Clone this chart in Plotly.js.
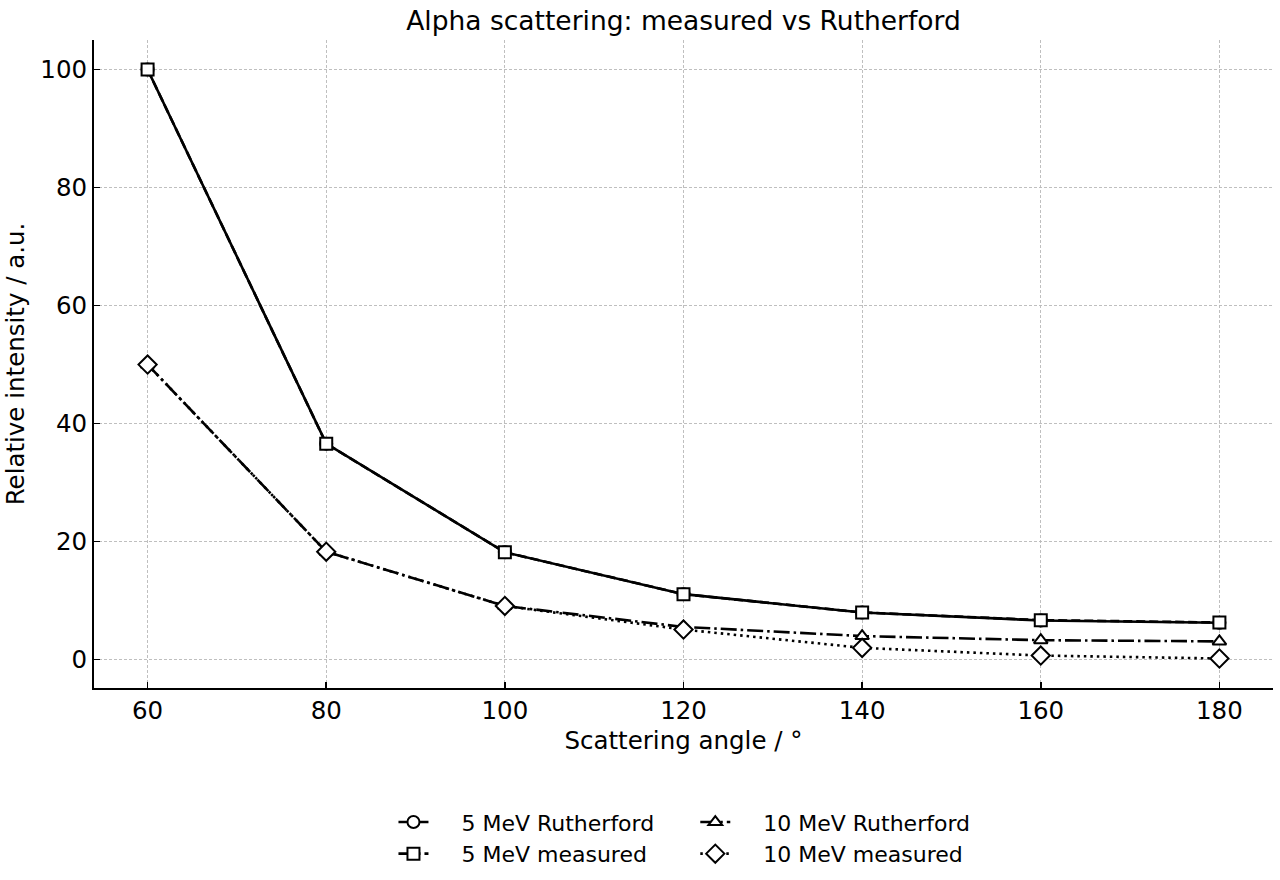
<!DOCTYPE html>
<html>
<head>
<meta charset="utf-8">
<script src="https://cdn.plot.ly/plotly-3.0.1.min.js"></script>
<style>
  html, body { margin: 0; padding: 0; background: #ffffff; }
  #chart { width: 1280px; height: 880px; }
</style>
</head>
<body>
<div id="chart"></div>
<script>
// Scattering angles in degrees
const angles = [60, 80, 100, 120, 140, 160, 180];

// Relative intensities (a.u.)
const rutherford5 = [100, 36.6, 18.2, 11.1, 8.0, 6.65, 6.25];
const measured5   = [100, 36.6, 18.2, 11.1, 8.0, 6.7, 6.3];
const rutherford10 = [50, 18.3, 9.1, 5.55, 4.0, 3.3, 3.1];
const measured10   = [50, 18.3, 9.1, 5.1, 2.0, 0.7, 0.2];

const seriesNames = ['5 MeV Rutherford', '5 MeV measured', '10 MeV Rutherford', '10 MeV measured'];
const yTicks = [0, 20, 40, 60, 80, 100];

const FONT = 'DejaVu Sans, sans-serif';
const GAP = '\u00a0\u00a0\u00a0\u00a0';

function series(y, name, symbol, dash, legendId, size) {
  return {
    x: angles, y: y, name: GAP + name, type: 'scatter', mode: 'lines+markers',
    legend: legendId,
    line: { color: '#000000', width: 2.6, dash: dash },
    marker: { symbol: symbol, size: size, color: '#ffffff', line: { color: '#000000', width: 2 } }
  };
}

const traces = [
  series(rutherford5, seriesNames[0], 'circle', 'solid', 'legend', 12),
  series(measured5, seriesNames[1], 'square', '9px,4px', 'legend', 12),
  series(rutherford10, seriesNames[2], 'triangle-up', '16px,4px,2.5px,4px', 'legend2', 12),
  series(measured10, seriesNames[3], 'diamond', '2.5px,4px', 'legend2', 14)
];

const axisCommon = {
  showline: true, linecolor: '#000000', linewidth: 2, mirror: false,
  ticks: 'inside', ticklen: 6, tickwidth: 1.6, tickcolor: '#000000',
  showgrid: true, gridcolor: '#b8b8b8', gridwidth: 0.9, griddash: '3px,2px',
  zeroline: false, automargin: false,
  tickfont: { family: FONT, size: 24.5, color: '#000000' }
};

const legendCommon = {
  xanchor: 'left', yref: 'container', y: 0.0895, yanchor: 'top',
  orientation: 'v', bgcolor: 'rgba(0,0,0,0)',
  font: { family: FONT, size: 22, color: '#000000' }
};

const layout = {
  width: 1280, height: 880,
  paper_bgcolor: '#ffffff', plot_bgcolor: '#ffffff',
  margin: { l: 94, r: 7, t: 40, b: 192, autoexpand: false },
  font: { family: FONT, color: '#000000' },
  title: {
    text: 'Alpha scattering: measured vs Rutherford',
    font: { family: FONT, size: 26.5, color: '#000000' },
    x: 0.5, xref: 'paper', xanchor: 'center',
    y: 1, yref: 'paper', yanchor: 'bottom', pad: { b: 10 }
  },
  xaxis: Object.assign({}, axisCommon, {
    range: [54, 186], tickvals: angles,
    title: { text: 'Scattering angle / °', font: { family: FONT, size: 24.5, color: '#000000' }, standoff: 7 }
  }),
  yaxis: Object.assign({}, axisCommon, {
    range: [-4.8, 105], tickvals: yTicks,
    title: { text: 'Relative intensity / a.u.', font: { family: FONT, size: 24.5, color: '#000000' }, standoff: 9 }
  }),
  legend: Object.assign({ x: 0.254 }, legendCommon),
  legend2: Object.assign({ x: 0.51 }, legendCommon),
  showlegend: true
};

Plotly.newPlot('chart', traces, layout, { displayModeBar: false, staticPlot: true });
</script>
</body>
</html>
